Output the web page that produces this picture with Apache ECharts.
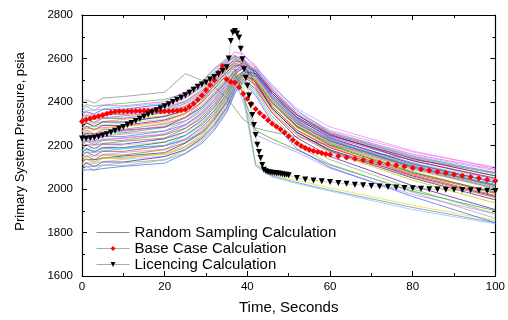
<!DOCTYPE html>
<html><head><meta charset="utf-8">
<script src="https://cdn.jsdelivr.net/npm/echarts@6/dist/echarts.min.js"></script>
<style>html,body{margin:0;padding:0;background:#fff}#c{width:508px;height:320px}</style>
</head><body><div id="c"></div>
<script>
const xTicks = [0, 20, 40, 60, 80, 100];
const yTicks = [1600, 1800, 2000, 2200, 2400, 2600, 2800];
const randomName = 'Random Sampling Calculation';
const baseName = 'Base Case Calculation';
const licName = 'Licencing Calculation';

const randomTimes = [0,1,3,5,10,20,25,29,32,35,37,39,42,46,52,60,80,100];
const randomRuns = [
[2392,2410,2395,2418,2425,2445,2530,2500,2470,2420,2370,2320,2280,2262,2240,2200,2135,2075],
[2372,2388,2380,2386,2394,2412,2440,2495,2555,2600,2615,2590,2520,2430,2330,2250,2140,2060],
[2358,2380,2362,2384,2382,2402,2446,2490,2550,2595,2630,2620,2560,2440,2340,2260,2160,2090],
[2350,2362,2360,2368,2378,2394,2428,2480,2540,2590,2605,2570,2500,2400,2300,2220,2110,2020],
[2348,2355,2345,2366,2366,2390,2420,2472,2532,2585,2610,2595,2530,2420,2310,2230,2120,2030],
[2330,2354,2338,2352,2362,2378,2418,2465,2525,2575,2600,2610,2570,2460,2350,2270,2170,2100],
[2334,2340,2338,2344,2350,2375,2404,2458,2518,2570,2590,2575,2500,2390,2290,2210,2100,2000],
[2316,2338,2322,2344,2342,2366,2402,2450,2510,2565,2595,2600,2540,2430,2320,2240,2130,2045],
[2312,2322,2320,2326,2337,2352,2395,2440,2500,2555,2580,2560,2490,2380,2270,2190,2070,1980],
[2298,2320,2306,2325,2325,2350,2380,2432,2492,2550,2585,2590,2530,2410,2300,2220,2105,2015],
[2296,2305,2302,2310,2320,2336,2378,2424,2484,2545,2575,2585,2550,2450,2340,2255,2150,2075],
[2280,2304,2288,2308,2308,2333,2362,2415,2476,2538,2570,2565,2490,2370,2260,2180,2060,1965],
[2281,2290,2286,2294,2304,2320,2361,2408,2468,2530,2565,2575,2525,2420,2310,2230,2120,2040],
[2266,2288,2272,2292,2292,2317,2347,2400,2460,2525,2560,2580,2545,2440,2330,2245,2140,2060],
[2264,2272,2270,2277,2287,2302,2345,2392,2452,2520,2560,2470,2120,2065,2040,2005,1925,1855],
[2248,2270,2254,2274,2274,2299,2330,2383,2443,2510,2550,2440,2110,2060,2030,1995,1915,1845],
[2246,2255,2252,2260,2270,2285,2328,2375,2435,2500,2545,2570,2540,2450,2340,2250,2130,2050],
[2232,2254,2238,2258,2258,2283,2314,2367,2427,2495,2540,2560,2510,2400,2290,2210,2090,2005],
[2230,2238,2236,2243,2253,2268,2311,2358,2418,2488,2535,2555,2520,2415,2300,2215,2095,2010],
[2216,2237,2222,2241,2241,2266,2297,2350,2410,2480,2530,2555,2530,2430,2315,2225,2100,2020],
[2212,2221,2218,2226,2236,2251,2295,2342,2402,2472,2525,2560,2550,2460,2345,2255,2145,2070],
[2198,2220,2204,2224,2224,2249,2280,2333,2393,2465,2530,2430,2270,2230,2180,2110,1990,1900],
[2196,2204,2202,2209,2219,2234,2278,2325,2385,2458,2515,2540,2515,2420,2305,2220,2100,2015],
[2181,2202,2186,2206,2206,2231,2263,2316,2376,2450,2510,2540,2530,2440,2325,2235,2115,2030],
[2178,2187,2184,2192,2202,2217,2261,2308,2368,2443,2505,2535,2510,2410,2295,2210,2090,2000],
[2164,2186,2170,2190,2190,2215,2247,2300,2360,2436,2500,2530,2495,2395,2285,2200,2075,1985],
[2162,2170,2168,2175,2185,2200,2245,2292,2352,2428,2495,2530,2520,2430,2315,2225,2105,2020],
[2148,2169,2154,2173,2173,2198,2230,2283,2343,2420,2490,2525,2490,2380,2270,2190,2065,1970],
[2145,2153,2151,2158,2168,2183,2228,2275,2335,2412,2500,2400,2250,2215,2170,2095,1975,1885],
[2131,2152,2136,2156,2156,2181,2214,2267,2327,2405,2480,2520,2500,2400,2290,2205,2080,1980],
[2129,2137,2134,2142,2152,2167,2211,2258,2318,2398,2475,2515,2480,2370,2260,2175,2050,1950],
[2115,2136,2120,2140,2140,2165,2197,2250,2310,2390,2470,2515,2495,2395,2280,2195,2065,1960],
[2112,2121,2118,2126,2136,2151,2195,2242,2302,2382,2480,2420,2105,2055,2025,1990,1905,1840],
[2098,2120,2104,2124,2124,2149,2181,2234,2294,2375,2460,2505,2460,2350,2235,2150,2015,1905],
[2097,2105,2102,2110,2120,2135,2179,2226,2286,2368,2450,2500,2450,2335,2220,2135,2000,1885],
[2084,2104,2088,2108,2108,2133,2165,2218,2278,2360,2445,2495,2440,2320,2200,2115,1985,1865],
[2082,2089,2087,2094,2104,2119,2163,2210,2270,2352,2440,2490,2430,2305,2185,2100,1965,1845],
[2301,2324,2308,2328,2328,2353,2384,2437,2497,2560,2590,2595,2560,2470,2360,2265,2155,2085],
[2240,2262,2246,2266,2265,2290,2330,2400,2480,2560,2600,2580,2520,2420,2310,2230,2110,2030],
[2170,2180,2175,2185,2190,2200,2225,2260,2320,2400,2470,2540,2560,2480,2360,2260,2150,2075],
[2120,2140,2125,2145,2145,2160,2190,2240,2330,2440,2520,2530,2470,2360,2250,2170,2040,1935],
[2270,2280,2276,2282,2290,2310,2350,2420,2500,2580,2610,2560,2470,2350,2250,2170,2055,1960],
[2205,2228,2212,2230,2232,2255,2290,2345,2410,2490,2555,2575,2545,2470,2370,2285,2175,2095],
[2325,2332,2330,2338,2346,2362,2392,2445,2510,2570,2600,2585,2545,2455,2345,2260,2150,2070]
];

const baseTimes = [0,1,2,3,4,5,6,7,8,9,10,11,12,13,14,15,16,17,18,19,20,21,22,23,24,25,26,27,28,29,30,31,32,33,34,35,36,37,38,39,40,41,42,43,44,45,46,47,48,49,50,51,52,53,54,55,56,57,58,59,60,62,64,66,68,70,72,74,76,78,80,82,84,86,88,90,92,94,96,98,100];
const baseValues = [2310,2318,2324,2330,2334,2339,2346,2352,2355,2357,2358,2358,2358,2359,2359,2360,2360,2360,2359,2358,2358,2358,2359,2360,2362,2366,2378,2392,2410,2430,2455,2478,2500,2535,2566,2505,2492,2490,2468,2438,2415,2392,2368,2350,2333,2316,2300,2287,2275,2260,2242,2225,2210,2198,2188,2181,2175,2170,2165,2161,2157,2151,2145,2139,2133,2127,2121,2115,2109,2103,2097,2091,2085,2079,2073,2067,2061,2055,2049,2043,2038];

const licTimes = [0,1,2,3,4,5,6,7,8,9,10,11,12,13,14,15,16,17,18,19,20,21,22,23,24,25,26,27,28,29,30,31,32,33,34,35,35.5,36,36.5,37,37.5,38,38.4,38.8,39.2,39.6,40,40.4,40.8,41.2,41.6,42,42.4,42.8,43.2,43.6,44,44.5,45,45.5,46,46.5,47,47.5,48,48.5,49,49.5,50,52,54,56,58,60,62,64,66,68,70,72,74,76,78,80,82,84,86,88,90,92,94,96,98,100];
const licValues = [2232,2232,2233,2236,2240,2246,2252,2260,2268,2277,2285,2294,2303,2313,2323,2333,2343,2352,2362,2371,2380,2390,2400,2410,2420,2431,2443,2456,2470,2480,2490,2503,2515,2528,2543,2560,2600,2680,2720,2726,2715,2696,2645,2597,2551,2512,2475,2430,2385,2340,2294,2248,2203,2170,2142,2110,2089,2082,2078,2076,2075,2074,2072,2071,2070,2068,2066,2065,2063,2051,2044,2039,2036,2032,2028,2024,2020,2017,2014,2011,2009,2007,2005,2003,2001,1999,1998,1997,1996,1995,1994,1993,1992,1991];

const runColors = ['#808080','#40c040','#ff40ff','#40d8e0','#4040ff','#ff80c0','#a0a040','#a040ff','#ff4040','#008080','#ff8000','#000080','#80e080','#800080','#e0e000','#6080c0','#800040','#00a0a0','#c08080','#4169e1','#e040e0','#20a020','#a06040','#2020c0','#ffa0c0','#006000','#00c0ff','#e02020','#c080ff','#808000','#202080','#ffa040','#80c0ff','#6000a0','#60c060','#a0a0a0','#3060ff','#c0a0ff','#ff60a0','#40a0ff','#c0c000','#ff6060','#e080ff','#60e0c0'];

const FONT = 'Liberation Sans, Arial, sans-serif';
const series = [];
randomRuns.forEach((run, i) => {
  series.push({
    name: randomName, type: 'line', xAxisIndex: 0, yAxisIndex: 0,
    data: randomTimes.map((t, k) => [t, run[k]]),
    symbol: 'none', silent: true,
    lineStyle: { width: 0.7, color: runColors[i % runColors.length] },
    itemStyle: { color: runColors[i % runColors.length] },
    z: 2
  });
});
series.push({
  name: baseName, type: 'line',
  data: baseTimes.map((t, k) => [t, baseValues[k]]),
  symbol: 'diamond', symbolSize: 6, showAllSymbol: true,
  lineStyle: { width: 0.6, color: '#aaaaaa' },
  itemStyle: { color: '#ff0000', borderWidth: 0 },
  z: 4
});
series.push({
  name: licName, type: 'line',
  data: licTimes.map((t, k) => [t, licValues[k]]),
  symbol: 'triangle', symbolRotate: 180, symbolSize: 6, showAllSymbol: true,
  lineStyle: { width: 0.6, color: '#aaaaaa' },
  itemStyle: { color: '#000000', borderWidth: 0 },
  z: 5
});

const axisCommon = {
  axisLine: { show: true, onZero: false, lineStyle: { color: '#000', width: 1.2 } },
  axisTick: { show: true, inside: true, length: 5, lineStyle: { color: '#000', width: 1 } },
  minorTick: { show: true, splitNumber: 2, length: 3, lineStyle: { color: '#000', width: 1 } },
  splitLine: { show: false }
};

const chart = echarts.init(document.getElementById('c'), null, { renderer: 'canvas' });
chart.setOption({
  animation: false,
  backgroundColor: '#ffffff',
  grid: { left: 82, right: 10, top: 15, bottom: 41, containLabel: false },
  legend: {
    orient: 'vertical', left: 91, top: 220,
    itemWidth: 33, itemHeight: 6, itemGap: 1,
    lineStyle: { width: 1, color: '#999' },
    textStyle: { fontFamily: FONT, fontSize: 15, color: '#000', lineHeight: 15 },
    data: [
      { name: randomName, itemStyle: { opacity: 0, color: 'rgba(0,0,0,0)', borderWidth: 0 }, lineStyle: { color: '#888', width: 1 } },
      { name: baseName, lineStyle: { color: '#aaa', width: 1 } },
      { name: licName, lineStyle: { color: '#aaa', width: 1 } }
    ]
  },
  xAxis: [
    Object.assign({}, axisCommon, {
      type: 'value', position: 'bottom', min: xTicks[0], max: xTicks[xTicks.length - 1], interval: xTicks[1] - xTicks[0],
      axisLabel: { fontFamily: FONT, fontSize: 11.5, color: '#000', margin: 5, formatter: v => String(v) },
      name: 'Time, Seconds', nameLocation: 'middle', nameGap: 24,
      nameTextStyle: { fontFamily: FONT, fontSize: 15, color: '#000' }
    }),
    Object.assign({}, axisCommon, {
      type: 'value', position: 'top', min: xTicks[0], max: xTicks[xTicks.length - 1], interval: xTicks[1] - xTicks[0],
      axisLabel: { show: false }
    })
  ],
  yAxis: [
    Object.assign({}, axisCommon, {
      type: 'value', position: 'left', min: yTicks[0], max: yTicks[yTicks.length - 1], interval: yTicks[1] - yTicks[0],
      axisLabel: { fontFamily: FONT, fontSize: 11.5, color: '#000', margin: 9, formatter: v => String(v) },
      name: 'Primary System Pressure, psia', nameLocation: 'middle', nameGap: 55, nameRotate: 90,
      nameTextStyle: { fontFamily: FONT, fontSize: 13, color: '#000', padding: [0, 0, 0, 8] }
    }),
    Object.assign({}, axisCommon, {
      type: 'value', position: 'right', min: yTicks[0], max: yTicks[yTicks.length - 1], interval: yTicks[1] - yTicks[0],
      axisLabel: { show: false }
    })
  ],
  series: series
});
</script>
</body></html>
